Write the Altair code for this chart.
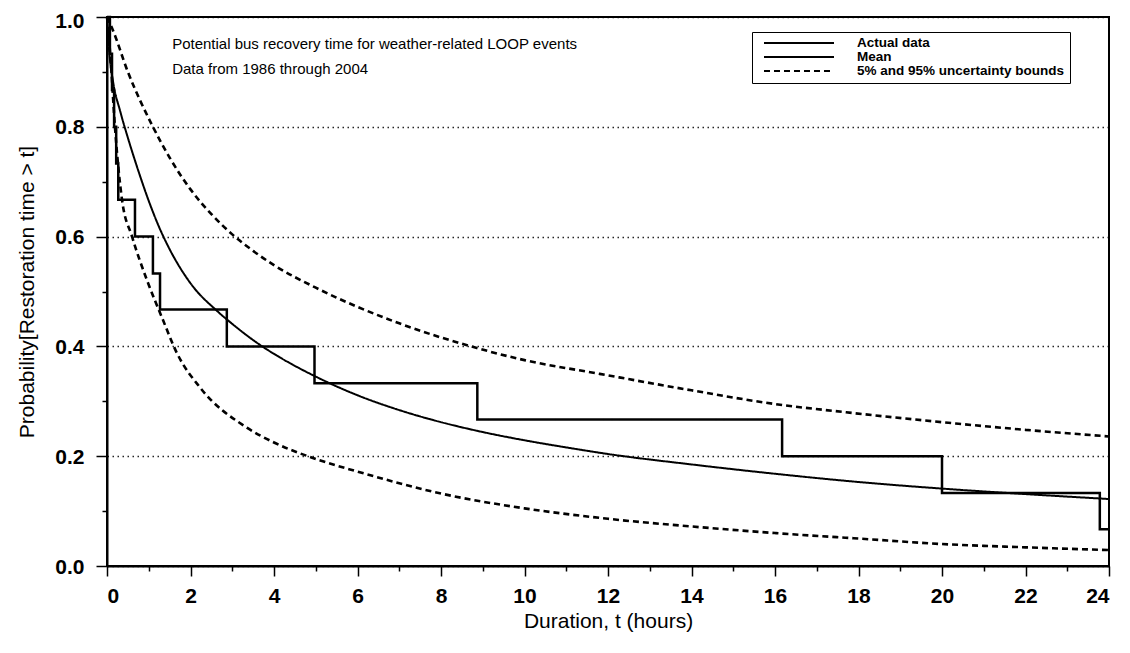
import altair as alt
import pandas as pd

# ---- data ----
actual_t = [0.0, 0.07, 0.12, 0.17, 0.22, 0.27, 0.67, 1.10, 1.27, 2.87, 4.97, 8.87, 16.17, 20.0, 23.78, 24.0]
actual_p = [1.0, 0.933, 0.867, 0.8, 0.733, 0.667, 0.6, 0.533, 0.467, 0.4, 0.333, 0.267, 0.2, 0.133, 0.067, 0.067]

mean_t = [0, 0.05, 0.15, 0.31, 0.5, 0.75, 1.0, 1.25, 1.5, 2.0, 2.66, 3.0, 3.66, 4.14, 5, 6, 7, 8, 9, 10, 11, 12, 14, 16, 18, 20, 22, 24]
mean_p = [1.0, 0.94, 0.88, 0.83, 0.78, 0.72, 0.665, 0.617, 0.577, 0.515, 0.463, 0.441, 0.403, 0.38, 0.345, 0.311, 0.284, 0.262, 0.244, 0.229, 0.216, 0.204, 0.185, 0.168, 0.153, 0.141, 0.131, 0.122]

upper_t = [0, 0.12, 0.5, 1.1, 1.5, 2.0, 2.5, 3.0, 3.5, 4.0, 5, 6, 7, 8.86, 10, 11.8, 14, 16, 17.7, 20, 22, 24]
upper_p = [1.0, 0.98, 0.90, 0.80, 0.744, 0.686, 0.641, 0.604, 0.574, 0.548, 0.507, 0.472, 0.442, 0.397, 0.375, 0.35, 0.32, 0.295, 0.28, 0.262, 0.248, 0.236]

lower_t = [0, 0.08, 0.19, 0.36, 0.6, 0.96, 1.32, 1.68, 2.23, 3.35, 4, 5, 6, 8, 10, 12, 14, 16, 18, 20, 22, 24]
lower_p = [1.0, 0.93, 0.80, 0.667, 0.60, 0.52, 0.452, 0.387, 0.325, 0.252, 0.225, 0.195, 0.172, 0.132, 0.105, 0.086, 0.072, 0.06, 0.05, 0.04, 0.034, 0.029]

legend_labels = ["Actual data", "Mean", "5% and 95% uncertainty bounds"]

note_lines = ["Potential bus recovery time for weather-related LOOP events",
              "Data from 1986 through 2004"]
note_t = [1.56, 1.56]
note_p = [0.942, 0.897]

x_ticks = list(range(0, 25))
y_ticks = [round(i * 0.1, 1) for i in range(0, 11)]

# ---- tables ----
df_actual = pd.DataFrame({"t": actual_t, "p": actual_p, "kind": legend_labels[0], "series": "actual"})
df_mean = pd.DataFrame({"t": mean_t, "p": mean_p, "kind": legend_labels[1], "series": "mean"})
df_bounds = pd.concat([
    pd.DataFrame({"t": upper_t, "p": upper_p, "kind": legend_labels[2], "series": "upper"}),
    pd.DataFrame({"t": lower_t, "p": lower_p, "kind": legend_labels[2], "series": "lower"}),
])
df_note = pd.DataFrame({"t": note_t, "p": note_p, "text": note_lines})

FONT = "Liberation Sans"

x_enc = alt.X("t:Q", scale=alt.Scale(domain=[0, 24], nice=False),
              axis=alt.Axis(values=x_ticks, title="Duration, t (hours)",
                            labelExpr="datum.value % 2 == 0 ? datum.label : ''",
                            tickSize={"condition": {"test": "datum.value % 2 == 0", "value": 10}, "value": 5},
                            grid=False, labelPadding=9, titlePadding=4))
y_enc = alt.Y("p:Q", scale=alt.Scale(domain=[0, 1], nice=False),
              axis=alt.Axis(values=y_ticks, title="Probability[Restoration time > t]",
                            format=".1f",
                            labelExpr="round(datum.value*10) % 2 == 0 ? format(datum.value, '.1f') : ''",
                            tickSize={"condition": {"test": "round(datum.value*10) % 2 == 0", "value": 11}, "value": 5},
                            grid=True, labelPadding=12, titlePadding=17,
                            labelOffset={"condition": {"test": "datum.value >= 0.95", "value": 4}, "value": 1},
                            gridOpacity={"condition": {"test": "round(datum.value*10) % 2 == 0", "value": 0.85}, "value": 0}))

dash_scale = alt.Scale(domain=legend_labels, range=[[1, 0], [1, 0], [6, 4]])
dash_legend = alt.Legend(orient="none", legendX=645, legendY=15, title=None,
                         symbolType="stroke", symbolSize=4900, symbolStrokeWidth=2,
                         symbolStrokeColor="black", labelFont=FONT, labelFontSize=13.5,
                         labelFontWeight="bold", labelColor="black", labelLimit=0,
                         strokeColor="black", fillColor="white", padding=5,
                         clipHeight=12, labelOffset=22, rowPadding=0, symbolOffset=6)

actual = alt.Chart(df_actual).mark_line(interpolate="step-after", color="black", strokeWidth=2.5).encode(
    x=x_enc, y=y_enc,
    strokeDash=alt.StrokeDash("kind:N", scale=dash_scale, legend=dash_legend),
)
mean = alt.Chart(df_mean).mark_line(interpolate="monotone", color="black", strokeWidth=2).encode(
    x="t:Q", y="p:Q",
    strokeDash=alt.StrokeDash("kind:N", scale=dash_scale, legend=dash_legend),
)
bounds = alt.Chart(df_bounds).mark_line(interpolate="monotone", color="black", strokeWidth=2.6).encode(
    x="t:Q", y="p:Q", detail="series:N",
    strokeDash=alt.StrokeDash("kind:N", scale=dash_scale, legend=dash_legend),
)
note = alt.Chart(df_note).mark_text(align="left", baseline="alphabetic", font=FONT,
                                    fontSize=15, color="black").encode(
    x="t:Q", y="p:Q", text="text:N")

chart = alt.layer(actual, mean, bounds, note).properties(
    width=1002, height=549,
    autosize=alt.AutoSizeParams(type="none"),
    padding={"left": 99, "top": 9, "right": 12, "bottom": 70},
    background="white",
).configure_view(
    stroke="black", strokeWidth=2
).configure_axis(
    labelFont=FONT, labelFontSize=21, labelFontWeight="bold", labelColor="black",
    titleFont=FONT, titleFontSize=21, titleFontWeight="normal", titleColor="black",
    domainColor="black", domainWidth=2, tickColor="black", tickWidth=1.5,
    gridColor="black", gridDash=[1.5, 3.5], gridWidth=1.5,
)

chart.save("out.html", embed_options={"renderer": "svg", "actions": False})
